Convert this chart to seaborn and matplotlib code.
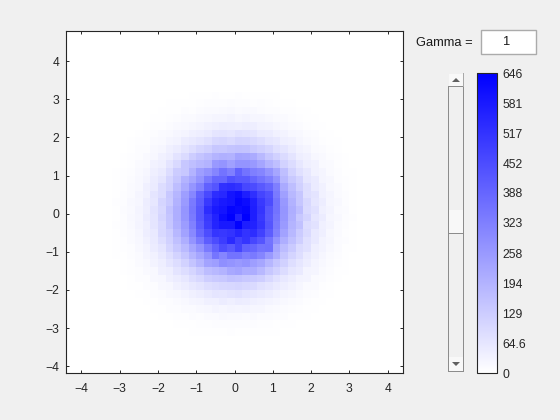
import matplotlib
matplotlib.use("Agg")
import matplotlib.pyplot as plt
from matplotlib.colors import LinearSegmentedColormap
from matplotlib.patches import Polygon, Rectangle
import numpy as np
import seaborn as sns

# bin counts, top row first, bins 0.2 wide from -3.2 to 3.2
counts = [
    [0,0,0,0,0,0,1,1,2,1,3,4,3,6,5,4,6,5,4,5,3,3,2,1,2,1,0,0,0,0,0,0],
    [0,0,0,0,1,1,1,3,3,5,4,7,8,9,8,11,9,10,7,8,7,4,5,3,2,1,1,1,0,0,0,0],
    [0,0,0,1,1,2,3,5,5,8,7,12,15,13,17,18,14,17,16,12,10,10,6,6,3,3,2,1,1,0,0,0],
    [0,0,1,1,2,3,5,7,9,13,15,20,21,27,26,31,25,28,24,23,18,14,13,8,7,4,4,2,1,1,0,0],
    [0,1,1,2,3,6,7,12,16,19,24,28,37,41,46,44,42,46,44,33,31,24,20,14,11,7,5,3,2,1,1,0],
    [1,1,2,3,6,8,13,16,24,28,39,45,52,66,70,64,76,72,66,52,48,36,31,22,18,11,8,5,3,2,1,1],
    [1,2,3,6,7,13,16,27,32,48,56,68,80,100,104,94,110,108,96,84,66,60,42,36,25,17,12,7,5,3,2,1],
    [1,2,4,8,10,18,24,38,48,66,84,104,118,142,140,150,156,152,136,120,104,80,68,48,34,27,15,12,6,4,2,1],
    [2,3,6,8,16,21,37,46,72,92,128,150,168,190,200,195,232,225,212,178,142,118,92,70,45,36,21,16,8,6,3,2],
    [2,4,7,13,17,33,42,70,97,142,162,181,194,258,271,240,271,271,258,228,190,162,116,90,62,42,33,17,13,6,4,2],
    [3,6,8,16,24,41,54,88,129,142,194,245,271,310,355,323,400,355,323,310,271,226,162,112,80,60,35,27,14,10,4,3],
    [3,7,11,20,28,50,66,106,142,194,226,271,336,388,388,439,420,420,388,355,323,271,181,138,110,64,52,26,21,9,7,3],
    [5,7,14,20,38,52,88,112,165,212,270,320,400,430,520,530,517,465,452,420,390,323,215,165,120,84,52,37,20,14,7,4],
    [4,9,14,27,37,68,86,140,185,245,305,395,460,530,545,594,614,568,525,470,440,336,240,180,144,82,70,36,27,13,9,5],
    [6,8,18,25,47,62,108,135,195,255,336,410,500,560,581,594,633,614,565,500,452,355,260,195,146,100,64,46,25,18,8,5],
    [5,11,16,29,44,73,100,155,205,270,345,425,530,580,594,633,620,633,570,510,425,355,270,205,165,94,78,40,30,15,11,4],
    [4,10,18,26,48,66,108,148,206,265,336,425,500,560,614,646,560,646,570,500,420,345,265,200,140,110,64,50,24,19,8,6],
    [6,8,16,28,42,68,98,144,198,250,320,410,490,555,581,581,640,568,560,510,430,335,255,190,158,88,74,38,30,14,10,4],
    [4,9,15,24,44,57,100,126,180,235,300,385,450,510,504,517,549,517,530,480,410,320,235,180,132,94,56,42,22,15,7,5],
    [4,7,14,21,36,54,84,118,160,205,271,336,410,452,490,540,480,510,465,430,355,275,205,160,122,80,58,32,23,12,8,3],
    [3,7,10,20,29,49,68,104,140,175,225,271,336,395,450,420,470,400,388,355,360,225,170,135,92,76,42,32,18,12,5,4],
    [3,5,10,14,26,37,58,82,112,145,188,225,271,350,310,355,355,323,336,310,258,205,145,110,84,55,39,24,15,8,5,2],
    [2,4,6,13,18,31,44,66,88,115,150,185,233,245,284,271,258,271,245,226,185,148,118,85,64,46,28,20,11,7,4,2],
    [2,3,6,8,17,20,38,44,70,88,108,135,168,181,194,220,232,207,207,181,142,118,90,65,54,29,26,13,10,4,3,2],
    [1,2,3,8,10,20,22,40,50,62,85,100,125,135,140,155,150,140,135,125,100,78,60,46,31,29,14,12,6,5,2,1],
    [1,2,3,5,9,10,20,22,36,46,60,70,85,92,100,102,108,100,95,78,68,55,44,34,24,15,13,6,5,2,2,1],
    [1,1,2,4,4,9,12,18,22,30,38,46,56,68,65,72,78,66,62,54,46,36,28,24,16,12,9,4,3,2,1,1],
    [0,1,1,2,3,4,8,10,15,19,26,30,38,40,50,42,48,46,38,34,28,24,19,14,12,6,4,3,2,1,1,0],
    [0,0,1,1,2,3,4,8,9,13,14,20,21,28,25,30,26,28,23,24,17,15,11,9,6,5,3,2,1,1,0,0],
    [0,0,0,1,1,2,3,4,6,6,11,10,15,13,18,16,17,15,16,12,12,8,8,5,4,3,2,1,1,0,0,0],
    [0,0,0,0,1,1,2,2,3,4,5,7,7,9,9,10,10,9,8,7,7,5,4,3,2,1,1,1,0,0,0,0],
    [0,0,0,0,0,1,1,1,1,2,3,3,4,5,5,6,5,5,5,4,3,3,2,2,1,1,0,0,0,0,0,0],
]
axis_ticks = [-4, -3, -2, -1, 0, 1, 2, 3, 4]
axis_labels = ["\u22124", "\u22123", "\u22122", "\u22121", "0", "1", "2", "3", "4"]
cbar_values = [0, 64.6, 129.2, 193.8, 258.4, 323, 387.6, 452.2, 516.8, 581.4, 646]
cbar_labels = ["0", "64.6", "129", "194", "258", "323", "388", "452", "517", "581", "646"]

W, H = 560, 420
BG = "#f0f0f0"
DARK = "#262626"


def px_axes(fig, left, top, right, bottom):
    return fig.add_axes([left / W, 1 - bottom / H, (right - left) / W, (bottom - top) / H])


def px_rect(fig, left, top, right, bottom, face, edge="none", lw=1.0):
    fig.add_artist(Rectangle((left / W, 1 - bottom / H), (right - left) / W, (bottom - top) / H,
                             transform=fig.transFigure, facecolor=face, edgecolor=edge, linewidth=lw))


def px_arrow(fig, cx, cy, up=True):
    tip = -2 if up else 2
    pts = [(cx - 4, cy - tip), (cx + 4, cy - tip), (cx, cy + tip)]
    fig.add_artist(Polygon([(x / W, 1 - y / H) for x, y in pts], closed=True,
                           transform=fig.transFigure, facecolor="#606060", edgecolor="none"))


sns.set_style("white")
plt.rcParams["font.family"] = ["Liberation Sans", "DejaVu Sans"]
plt.rcParams["font.size"] = 8.7

fig = plt.figure(figsize=(W / 100, H / 100), dpi=100, facecolor=BG)
ax = px_axes(fig, 66, 31, 403, 373)
cax = px_axes(fig, 477, 73, 497, 373)

white_blue = LinearSegmentedColormap.from_list("white_blue", ["#ffffff", "#0000ff"])
sns.heatmap(np.array(counts), cmap=white_blue, vmin=0, vmax=646, ax=ax, cbar_ax=cax,
            xticklabels=False, yticklabels=False)

# heatmap works in cell units, so convert the data ticks and limits
bin_width = 0.2
edge = 3.2
ax.set_xlim((-4.4 + edge) / bin_width, (4.4 + edge) / bin_width)
ax.set_ylim((edge + 4.18) / bin_width, (edge - 4.79) / bin_width)
ax.set_xticks([(t + edge) / bin_width for t in axis_ticks], axis_labels)
ax.set_yticks([(edge - t) / bin_width for t in axis_ticks], axis_labels, rotation=0)
ax.set_facecolor("white")
ax.tick_params(direction="in", length=2.5, width=0.7, colors=DARK, top=True, right=True,
               bottom=True, left=True, labelsize=8.7)
ax.tick_params(axis="x", pad=7)
ax.tick_params(axis="y", pad=5)
for side in ax.spines.values():
    side.set_visible(True)
    side.set_color(DARK)
    side.set_linewidth(0.8)

cax.set_yticks(cbar_values, cbar_labels)
cax.tick_params(direction="in", length=2.5, width=0.7, colors=DARK, left=False, right=True,
                labelleft=False, labelright=True, pad=4, labelsize=8.7)
cbar = ax.collections[0].colorbar
cbar.outline.set_visible(True)
cbar.outline.set_edgecolor(DARK)
cbar.outline.set_linewidth(0.8)

# slider: gray track lines, pale buttons with a shadow on the lower right
px_rect(fig, 448, 87, 449, 372, "#8c8c8c")
px_rect(fig, 463, 87, 464, 372, "#8c8c8c")
px_rect(fig, 448, 371, 464, 372, "#8c8c8c")
px_rect(fig, 448, 86, 464, 87, "#8c8c8c")
px_rect(fig, 449, 74, 463, 86, "#f8f8f8")
px_rect(fig, 463, 73, 464, 87, "#a8a8a8")
px_rect(fig, 449, 357, 463, 371, "#f8f8f8")
px_rect(fig, 449, 210, 463, 233, "#f8f8f8")
px_rect(fig, 449, 233, 464, 234, "#8c8c8c")
px_arrow(fig, 456, 80, up=True)
px_arrow(fig, 456, 364, up=False)

# gamma box
fig.text(416 / W, 1 - 43.5 / H, "Gamma =", ha="left", va="center", color="#1a1a1a", fontsize=9.3)
px_rect(fig, 480.5, 30.5, 535.5, 54, "white", "#ababab", 1.0)
fig.text(507 / W, 1 - 42 / H, "1", ha="center", va="center", color="#1a1a1a", fontsize=9.3)

fig.savefig("out.png", dpi=100, facecolor=BG)
